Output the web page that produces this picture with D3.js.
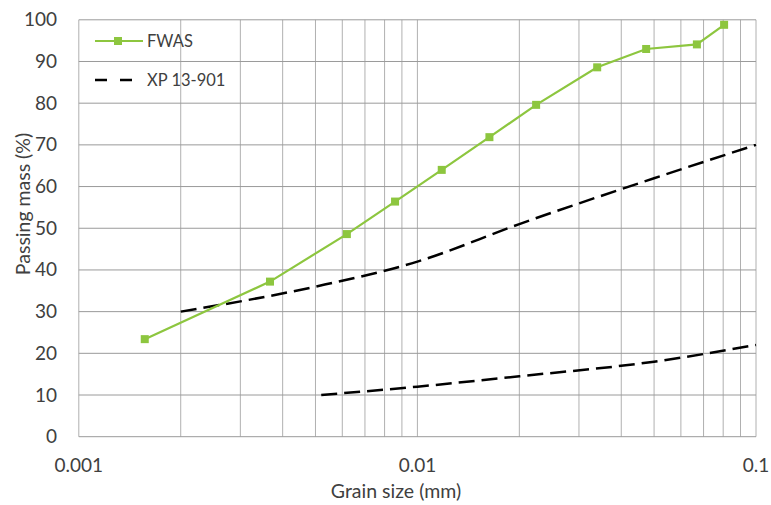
<!DOCTYPE html>
<html><head><meta charset="utf-8">
<script src="https://cdn.jsdelivr.net/npm/d3@7"></script>
<style>body{margin:0;background:#fff}svg{display:block}text{font-family:Lato,"Noto Sans",sans-serif;fill:#404040}</style>
</head><body><svg id="c" width="771" height="505"></svg>
<script>
const fwasSize=[0.001566,0.00367,0.00619,0.00859,0.0118,0.01632,0.02242,0.03396,0.04738,0.0669,0.0805];
const fwasPass=[23.4,37.2,48.6,56.4,64.0,71.85,79.6,88.6,93.0,94.1,98.8];
const xpUpperSize=[0.002,0.005,0.01,0.02,0.05,0.1];
const xpUpperPass=[30,36,42,51,62,70];
const xpLowerSize=[0.0052,0.01,0.02,0.05,0.1];
const xpLowerPass=[10,12,14.5,18,22];
const xTickLabels=["0.001","0.01","0.1"];
const yTicks=[0,10,20,30,40,50,60,70,80,90,100];
const seriesNames=["FWAS","XP 13-901"];

const svg=d3.select("#c");
const x=d3.scaleLog().domain([0.001,0.1]).range([78.8,756]);
const y=d3.scaleLinear().domain([0,100]).range([436.7,19.8]);
const green="#8DC63F";

// grid
const g=svg.append("g");
g.selectAll(".v").data(x.ticks()).join("line")
 .attr("x1",d=>x(d)).attr("x2",d=>x(d)).attr("y1",y(0)).attr("y2",y(100))
 .attr("stroke","#b0b0b0").attr("stroke-width",1);
g.selectAll(".h").data(yTicks).join("line")
 .attr("x1",x(0.001)).attr("x2",x(0.1)).attr("y1",d=>y(d)).attr("y2",d=>y(d))
 .attr("stroke","#9a9a9a").attr("stroke-width",1);

// axes labels
const fs=19;
svg.append("g").selectAll("text").data(yTicks).join("text")
 .attr("x",57).attr("y",d=>y(d)+6.5).attr("text-anchor","end").attr("font-size",fs).text(d=>d);
svg.append("g").selectAll("text").data(xTickLabels).join("text")
 .attr("x",d=>x(+d)).attr("y",472).attr("text-anchor","middle").attr("font-size",fs).text(d=>d);
svg.append("text").attr("x",396).attr("y",498).attr("text-anchor","middle").attr("font-size",19.5).text("Grain size (mm)");
svg.append("text").attr("transform","translate(30,204) rotate(-90)").attr("text-anchor","middle").attr("font-size",19.5).text("Passing mass (%)");

// XP curves
const line=d3.line().x(d=>x(d[0])).y(d=>y(d[1])).curve(d3.curveMonotoneX);
[[xpUpperSize,xpUpperPass],[xpLowerSize,xpLowerPass]].forEach(([s,p])=>{
 svg.append("path").attr("d",line(s.map((v,i)=>[v,p[i]])))
  .attr("fill","none").attr("stroke","#000").attr("stroke-width",2.5).attr("stroke-dasharray","16,7");
});

// FWAS
const fl=d3.line().x(d=>x(d[0])).y(d=>y(d[1]));
const fd=fwasSize.map((v,i)=>[v,fwasPass[i]]);
svg.append("path").attr("d",fl(fd)).attr("fill","none").attr("stroke",green).attr("stroke-width",2.2);
svg.append("g").selectAll("rect").data(fd).join("rect")
 .attr("x",d=>x(d[0])-4).attr("y",d=>y(d[1])-4).attr("width",8).attr("height",8).attr("fill",green);

// legend
const lg=svg.append("g");
lg.append("line").attr("x1",95).attr("x2",143).attr("y1",41).attr("y2",41).attr("stroke",green).attr("stroke-width",2.2);
lg.append("rect").attr("x",114).attr("y",37).attr("width",8).attr("height",8).attr("fill",green);
lg.append("text").attr("x",147).attr("y",47).attr("font-size",16.5).text(seriesNames[0]);
lg.append("line").attr("x1",95).attr("x2",136).attr("y1",80).attr("y2",80).attr("stroke","#000").attr("stroke-width",2.5).attr("stroke-dasharray","12,13");
lg.append("text").attr("x",147).attr("y",86).attr("font-size",16.5).text(seriesNames[1]);
</script></body></html>
